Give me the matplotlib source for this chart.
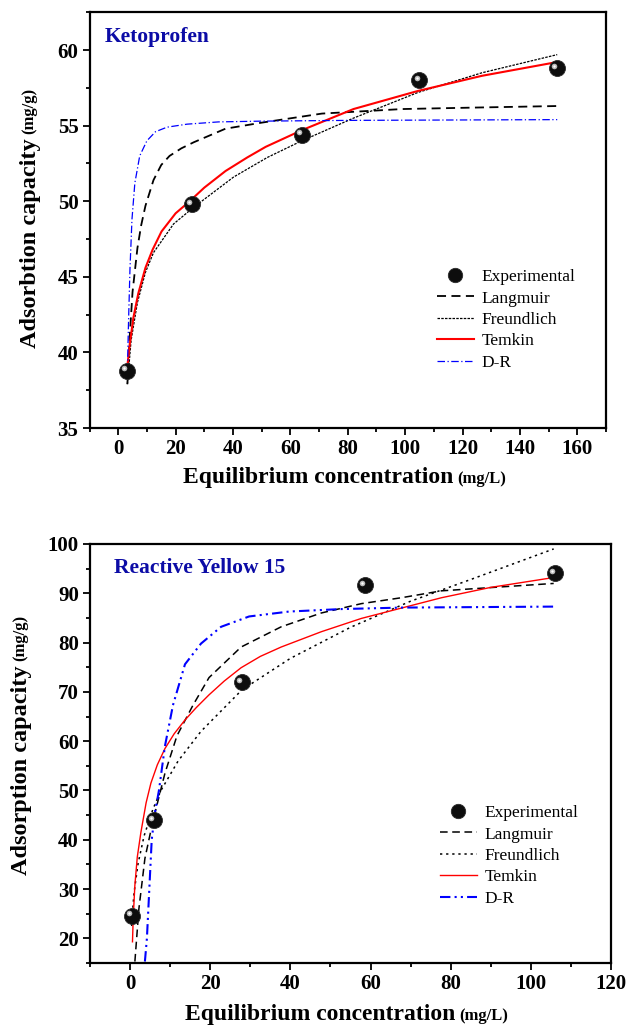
import numpy as np
import matplotlib
matplotlib.use("Agg")
import matplotlib.pyplot as plt
from matplotlib.ticker import MultipleLocator
from matplotlib.transforms import offset_copy

plt.rcParams["font.family"] = ["Liberation Serif", "DejaVu Serif"]

# --- Ketoprofen (top) ---
keto_exp_x = [2.9, 25.7, 64.0, 104.9, 152.8]
keto_exp_y = [38.8, 49.8, 54.4, 58.0, 58.8]

keto_lang_x = [3.2, 4.0, 5.0, 6.7, 8.0, 9.5, 12.3, 15.0, 17.9, 22.0, 26.3, 37.4, 50, 71, 99, 125, 153]
keto_lang_y = [37.9, 41.0, 44.0, 46.9, 48.4, 49.7, 51.4, 52.4, 53.0, 53.5, 53.9, 54.8, 55.2, 55.8, 56.1, 56.2, 56.3]

keto_freu_x = [3.2, 4.5, 6.7, 9.5, 12.3, 19.3, 26.3, 40.2, 52, 64, 82, 104.5, 126.8, 153]
keto_freu_y = [37.9, 40.8, 43.3, 45.3, 46.6, 48.5, 49.6, 51.6, 52.9, 54.0, 55.5, 57.2, 58.5, 59.7]

keto_temk_x = [3.2, 4.0, 5.3, 7.0, 9.5, 12.0, 15.1, 20.0, 24.9, 30.0, 37.4, 45.0, 51.4, 64.0, 82.0, 104.5, 126.8, 152.7]
keto_temk_y = [39.1, 40.5, 42.3, 43.9, 45.6, 46.8, 48.0, 49.2, 50.0, 50.9, 52.0, 52.9, 53.6, 54.7, 56.1, 57.3, 58.3, 59.2]

keto_dr_x = [3.2, 3.6, 4.1, 4.8, 5.8, 7.5, 10, 13, 17, 24, 35, 50, 80, 153]
keto_dr_y = [38.8, 42.0, 45.5, 48.8, 51.2, 53.0, 54.0, 54.6, 54.9, 55.1, 55.25, 55.3, 55.35, 55.4]

# --- Reactive Yellow 15 (bottom) ---
ry_exp_x = [0.4, 5.9, 27.9, 58.5, 106.0]
ry_exp_y = [24.6, 44.0, 72.0, 91.6, 94.1]

ry_lang_x = [1.2, 2.2, 3.7, 5.7, 8.7, 11.7, 15.7, 19.7, 27.7, 37.7, 47.7, 57.7, 67.7, 77.7, 105.7]
ry_lang_y = [15.3, 26.0, 36.2, 43.8, 53.5, 61.1, 67.3, 72.9, 79.1, 83.2, 86.0, 87.9, 89.1, 90.5, 92.0]

ry_freu_x = [0.4, 0.5, 1, 2, 3.5, 5.7, 7.7, 12, 17.7, 27.9, 40, 55, 70, 85, 105.7]
ry_freu_y = [22.5, 24.4, 29.3, 35.2, 40.8, 46.2, 50.0, 56.0, 62.0, 70.4, 76.8, 83.1, 88.4, 92.8, 99.0]

ry_temk_x = [0.6, 0.8, 1.2, 1.8, 2.7, 4, 5.2, 6.8, 8.7, 11, 13.7, 16.5, 19.7, 23.5, 27.7, 32.5, 37.7, 47.7, 57.7, 67.7, 77.7, 90, 105.7]
ry_temk_y = [19.3, 24.5, 30.8, 36.5, 41.5, 47.5, 51.5, 55.2, 58.5, 61.5, 64.3, 66.8, 69.4, 72.2, 74.9, 77.2, 79.1, 82.2, 84.9, 87.0, 89.1, 91.2, 93.2]

ry_dr_x = [3.7, 4.2, 4.8, 5.4, 6.2, 7.2, 8.7, 10.7, 13.7, 17.7, 22.7, 29.7, 39.7, 52.7, 67.7, 105.7]
ry_dr_y = [15.3, 20.0, 30.0, 40.0, 45.5, 50.0, 59.0, 67.3, 75.6, 79.8, 83.2, 85.3, 86.3, 86.8, 87.1, 87.3]

legend_labels = ["Experimental", "Langmuir", "Freundlich", "Temkin", "D-R"]

fig = plt.figure(figsize=(6.29, 10.35), dpi=100)
ax1 = fig.add_axes([89.5 / 629, 1 - 428 / 1035, (606 - 89.5) / 629, (428 - 12.3) / 1035])
ax2 = fig.add_axes([90 / 629, 1 - 963 / 1035, (611 - 90) / 629, (963 - 544) / 1035])

TICKFONT = dict(family=["Liberation Serif"], weight="bold", size=15)


def style_axes(ax, xlim, ylim, xmaj, ymaj):
    ax.set_xlim(*xlim)
    ax.set_ylim(*ylim)
    ax.xaxis.set_major_locator(MultipleLocator(xmaj))
    ax.xaxis.set_minor_locator(MultipleLocator(xmaj / 2))
    ax.yaxis.set_major_locator(MultipleLocator(ymaj))
    ax.yaxis.set_minor_locator(MultipleLocator(ymaj / 2))
    ax.tick_params(which="both", direction="out", top=False, right=False, width=1.3)
    ax.tick_params(which="major", length=5, pad=3)
    ax.tick_params(which="minor", length=3)
    for s in ax.spines.values():
        s.set_linewidth(1.6)
    for lab in ax.get_xticklabels() + ax.get_yticklabels():
        lab.set_fontproperties(matplotlib.font_manager.FontProperties(**TICKFONT))


def sphere(ax, x, y, ms):
    ax.plot(x, y, "o", ms=ms, mfc="#0d0d0d", mec="#2a2a2a", mew=0.6, zorder=5)
    hl = offset_copy(ax.transData, fig=ax.figure, x=-1.8, y=1.8, units="points")
    ax.plot(x, y, "o", ms=ms * 0.35, mfc="#b8b8b8", mec="none", transform=hl, zorder=6)
    ax.plot(x, y, "o", ms=ms * 0.15, mfc="white", mec="none", transform=hl, zorder=7)


def labels(ax, title, ylab, tx, ty, xl_x, xl_y, yl_x, yl_y):
    ax.text(tx, ty, title, transform=ax.transAxes, color="#0c0ca6", fontsize=15.5,
            fontweight="bold", va="baseline", ha="left")
    t = ax.text(xl_x, xl_y, "Equilibrium concentration", transform=ax.transAxes,
                fontsize=17, fontweight="bold", ha="left", va="center")
    ax.annotate("(mg/L)", xy=(1, 0), xycoords=t, xytext=(3, 1), textcoords="offset points",
                fontsize=12, fontweight="bold", ha="left", va="bottom")
    t2 = ax.text(yl_x, yl_y, ylab, transform=ax.transAxes, rotation=90,
                 fontsize=17.5, fontweight="bold", ha="center", va="bottom")
    ax.annotate("(mg/g)", xy=(0, 1), xycoords=t2, xytext=(1, 3), textcoords="offset points",
                rotation=90, fontsize=12, fontweight="bold", ha="left", va="bottom")


# top panel
sphere(ax1, keto_exp_x, keto_exp_y, 11.5)
ax1.plot(keto_lang_x, keto_lang_y, color="black", lw=1.3, ls=(0, (5, 3)))
ax1.plot(keto_freu_x, keto_freu_y, color="black", lw=0.9, ls=(0, (2, 1)))
ax1.plot(keto_temk_x, keto_temk_y, color="red", lw=1.5)
ax1.plot(keto_dr_x, keto_dr_y, color="blue", lw=0.9, ls=(0, (6, 2, 1, 2)))
style_axes(ax1, (-10, 170), (35, 62.5), 20, 5)
labels(ax1, "Ketoprofen", "Adsorbtion capacity", 0.030, 0.9286, 0.181, -0.12, -0.115, 0.1925)

# bottom panel
sphere(ax2, ry_exp_x, ry_exp_y, 11.5)
ax2.plot(ry_lang_x, ry_lang_y, color="black", lw=1.1, ls=(0, (5, 3)))
ax2.plot(ry_freu_x, ry_freu_y, color="black", lw=1.1, ls=(0, (1.5, 2.5)))
ax2.plot(ry_temk_x, ry_temk_y, color="red", lw=1.0)
ax2.plot(ry_dr_x, ry_dr_y, color="blue", lw=1.5, ls=(0, (5, 2, 1, 2, 1, 2)))
style_axes(ax2, (-10, 120), (15, 100), 20, 10)
labels(ax2, "Reactive Yellow 15", "Adsorption capacity", 0.046, 0.931, 0.182, -0.124, -0.132, 0.21)

for ax, anchor in [(ax1, (0.673, 0.3825)), (ax2, (0.672, 0.377))]:
    lines = ax.get_lines()
    handles = [lines[0]] + lines[3:]
    ax.legend(handles, legend_labels, loc="upper left", bbox_to_anchor=anchor,
              frameon=False, fontsize=12.5, handlelength=2.1, handletextpad=0.45,
              labelspacing=0.3, borderpad=0, borderaxespad=0, markerscale=0.9)

fig.savefig("out.png", dpi=100)
